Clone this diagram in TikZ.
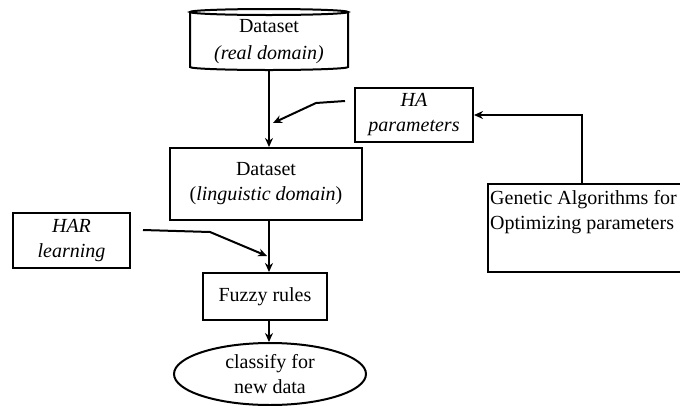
\documentclass[tikz,border=0pt]{standalone}
\usepackage{fontspec}
\setmainfont{Liberation Serif}
\usetikzlibrary{arrows.meta,shapes.geometric}
\begin{document}
\begin{tikzpicture}[x=1pt,y=-1pt,
  every node/.style={font=\fontsize{20}{25}\selectfont, align=center, inner sep=0pt},
  box/.style={draw, line width=2pt},
  link/.style={line width=2pt},
  arr/.style={line width=2pt, -{Stealth[length=9pt,width=8pt]}}]
\useasboundingbox (0,0) rectangle (680,405);
\clip (0,0) rectangle (680,405);
% Dataset (real domain) cylinder
\node[minimum width=158pt, minimum height=58pt] (ds1) at (269,42) {Dataset\\[2pt]\textit{(real domain)}};
\draw[link] (190,12) -- (190,67) arc[start angle=180,end angle=0,x radius=79,y radius=3] -- (348,12);
\draw[link] (269,12) ellipse [x radius=79, y radius=3];
% Dataset (linguistic domain)
\node[box, minimum width=192pt, minimum height=72pt] (ds2) at (266,184) {Dataset\\(\textit{linguistic domain})};
% HA parameters
\node[box, minimum width=118pt, minimum height=54pt] (ha) at (414,115) {\textit{HA}\\\textit{parameters}};
% HAR learning
\node[box, minimum width=117pt, minimum height=55pt] (har) at (71.5,240.5) {\textit{HAR}\\\textit{learning}};
% Genetic algorithms
\node[box, minimum width=220pt, minimum height=88pt, anchor=north west] (ga) at (487,183) {};
\node[anchor=north west, align=left] (gatext) at (490,190) {Genetic Algorithms for\\Optimizing parameters};
% Fuzzy rules
\node[box, minimum width=124pt, minimum height=47pt] (fz) at (265,296.5) {Fuzzy rules};
% classify
\node[draw, ellipse, line width=2pt, minimum width=192pt, minimum height=62pt] (cl) at (270,374) {classify for\\new data};
% connectors
\draw[arr] (ds1.south) -- (ds1.south |- ds2.north);
\draw[arr] (ds1.south |- ds2.south) -- (ds1.south |- fz.north);
\draw[arr] (ds1.south |- fz.south) -- (ds1.south |- cl.north);
\coordinate (haS) at (345,101);
\coordinate (haT) at (273,123);
\draw[arr] (haS) -- (316,103) -- (haT);
\coordinate (harS) at (143,230);
\coordinate (harT) at (267,256);
\draw[arr] (harS) -- (210,232) -- (harT);
\coordinate (gaTop) at (582,183);
\draw[arr] (gaTop) |- (ha.east);
\end{tikzpicture}
\end{document}
